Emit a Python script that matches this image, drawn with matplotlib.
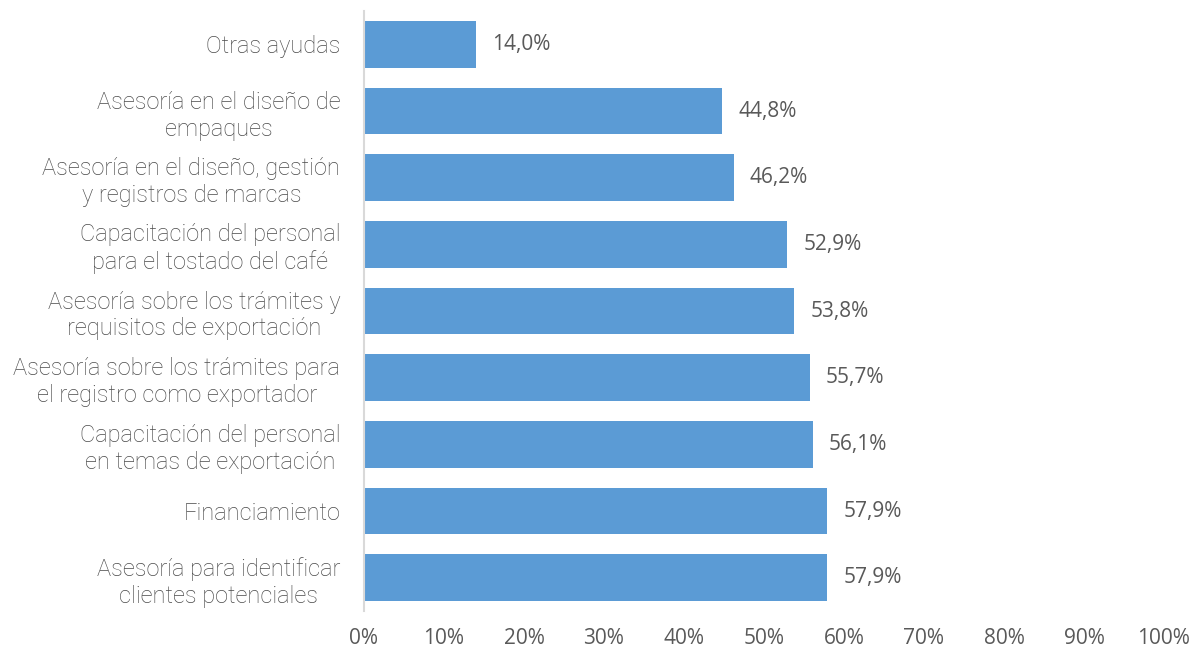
import numpy as np
import matplotlib.pyplot as plt

# data (top to bottom as in the chart)
categories = [
    "Otras ayudas",
    "Asesoría en el diseño de\nempaques",
    "Asesoría en el diseño, gestión\ny registros de marcas",
    "Capacitación del personal\npara el tostado del café",
    "Asesoría sobre los trámites y\nrequisitos de exportación",
    "Asesoría sobre los trámites para\nel registro como exportador",
    "Capacitación del personal\nen temas de exportación",
    "Financiamiento",
    "Asesoría para identificar\nclientes potenciales",
]
values = [14.0, 44.8, 46.2, 52.9, 53.8, 55.7, 56.1, 57.9, 57.9]
xticks = [0, 10, 20, 30, 40, 50, 60, 70, 80, 90, 100]

bar_color = "#5B9BD5"
text_color = "#595959"

fig = plt.figure(figsize=(11.91, 6.5), dpi=100)
ax = fig.add_axes([0.3056, 0.06, 0.6717, 0.923])

y = np.arange(len(categories))
ax.barh(y, values, height=0.7, color=bar_color)
ax.set_ylim(len(categories) - 0.5, -0.5)
ax.set_xlim(0, 100)

ax.set_yticks(y)
ax.set_yticklabels(categories, fontsize=17, color="#4a4a4a",
                   family="Roboto", weight="light", multialignment="center",
                   linespacing=1.22)
ax.set_xticks(xticks)
ax.set_xticklabels([f"{t}%" for t in xticks], fontsize=15, color=text_color,
                   family="Open Sans")
ax.tick_params(axis="both", length=0)
ax.tick_params(axis="x", pad=12)
ax.tick_params(axis="y", pad=17)

for s in ["top", "right", "bottom"]:
    ax.spines[s].set_visible(False)
ax.spines["left"].set_color("#D9D9D9")
ax.spines["left"].set_linewidth(1.5)

for yi, v in zip(y, values):
    ax.text(v + 2.0, yi, f"{v:.1f}%".replace(".", ","), va="center", ha="left",
            fontsize=15, color=text_color, family="Open Sans")

plt.savefig("out.png", dpi=100)
